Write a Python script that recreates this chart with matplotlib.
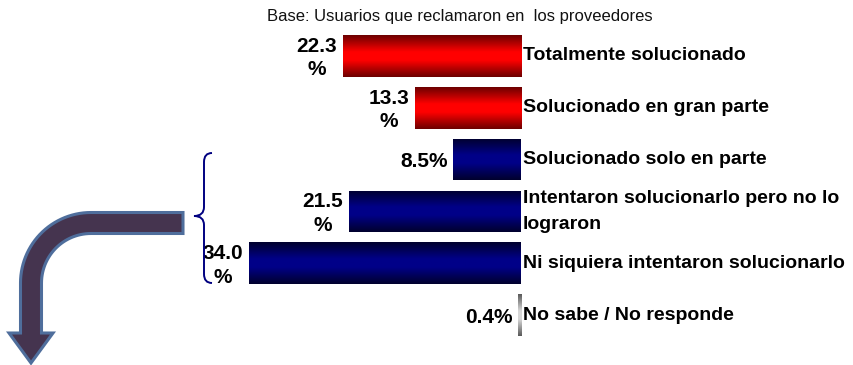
import matplotlib.pyplot as plt
import numpy as np
from matplotlib.colors import LinearSegmentedColormap
from matplotlib.patches import PathPatch, Polygon
from matplotlib.path import Path

plt.rcParams['font.family'] = ['Liberation Sans', 'DejaVu Sans']

# --- data ---
categories = [
    "Totalmente solucionado",
    "Solucionado en gran parte",
    "Solucionado solo en parte",
    "Intentaron solucionarlo pero no lo\nlograron",
    "Ni siquiera intentaron solucionarlo",
    "No sabe / No responde",
]
values = [22.3, 13.3, 8.5, 21.5, 34.0, 0.4]
groups = ["red", "red", "navy", "navy", "navy", "gray"]
subtitle = "Base: Usuarios que reclamaron en  los proveedores"

# dark edge -> bright centre -> dark edge
gradients = {
    "red": ["#6e0000", "#ff0000", "#ff0000", "#6e0000"],
    "navy": ["#00002e", "#000088", "#000088", "#00002e"],
    "gray": ["#5a5a5a", "#d8d8d8", "#d8d8d8", "#5a5a5a"],
}


def value_label(v):
    s = f"{v:.1f}"
    return s + ("\n%" if v >= 10 else "%")


fig = plt.figure(figsize=(8.54, 3.65), dpi=100)
ax = fig.add_axes([0, 0, 1, 1])
ax.axis("off")

ypos = np.arange(len(values))
bars = ax.barh(ypos, values, height=0.8, color="none", edgecolor="none")

for bar, grp in zip(bars, groups):
    stops = gradients[grp]
    cmap = LinearSegmentedColormap.from_list(
        grp, list(zip([0.0, 0.4, 0.6, 1.0], stops)))
    x0, y0 = bar.get_x(), bar.get_y()
    w, h = bar.get_width(), bar.get_height()
    grad = np.linspace(0, 1, 64).reshape(-1, 1)
    im = ax.imshow(grad, cmap=cmap, aspect="auto", interpolation="bilinear",
                   extent=(x0, x0 + w, y0 + h, y0), zorder=2)
    im.set_clip_path(bar)

# bars grow to the left from x=0, ~8 px per percentage point
ax.set_xlim(521 / 8.0, -(854 - 521) / 8.0)
ax.set_ylim((365 - 56) / 51.8, -56 / 51.8)

for y, v, cat in zip(ypos, values, categories):
    ax.annotate(value_label(v), xy=(v, y), xytext=(-4, -1.5),
                textcoords="offset points", ha="right", va="center",
                multialignment="center", fontsize=15, fontweight="bold",
                linespacing=1.3, zorder=3)
    ax.annotate(cat, xy=(0, y), xytext=(1.5, 0), textcoords="offset points",
                ha="left", va="center", fontsize=14, fontweight="bold",
                linespacing=1.7, zorder=3)

fig.text(460 / 854, 1 - 17 / 365, subtitle, ha="center", va="center",
         fontsize=12, color="#111111")

# overlay in pixel coordinates for the brace and the bent arrow
ov = fig.add_axes([0, 0, 1, 1], facecolor="none")
ov.set_xlim(0, 854)
ov.set_ylim(365, 0)
ov.axis("off")

brace = Path(
    [(212, 153), (204, 153), (204, 162), (204, 207), (204, 216), (194, 216),
     (204, 216), (204, 225), (204, 274), (204, 283), (212, 283)],
    [Path.MOVETO, Path.CURVE3, Path.CURVE3, Path.LINETO, Path.CURVE3,
     Path.CURVE3, Path.CURVE3, Path.CURVE3, Path.LINETO, Path.CURVE3,
     Path.CURVE3])
ov.add_patch(PathPatch(brace, facecolor="none", edgecolor="#000080", lw=1.4))

# bent arrow: horizontal shaft, quarter turn, vertical shaft, head
cx, cy, r, half = 91, 283, 60, 10.5
t_out = np.linspace(-np.pi / 2, -np.pi, 30)
t_in = t_out[::-1]
outer = np.column_stack([cx + (r + half) * np.cos(t_out),
                         cy + (r + half) * np.sin(t_out)])
inner = np.column_stack([cx + (r - half) * np.cos(t_in),
                         cy + (r - half) * np.sin(t_in)])
pts = np.vstack([
    [[183, cy - r - half]],
    outer,
    [[cx - r - half, 333], [9, 333], [cx - r, 363], [53, 333],
     [cx - r + half, 333]],
    inner,
    [[183, cy - r + half]],
])
ov.add_patch(Polygon(pts, closed=True, facecolor="#45344f",
                     edgecolor="#4f6e9c", lw=2.2, joinstyle="miter"))

fig.savefig("out.png", dpi=100)
